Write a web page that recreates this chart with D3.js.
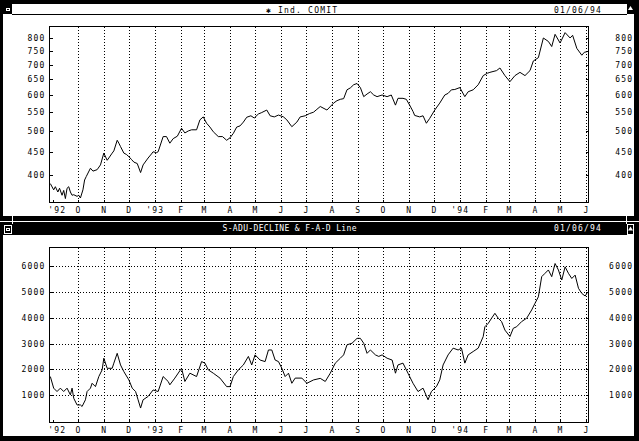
<!DOCTYPE html>
<html>
<head>
<meta charset="utf-8">
<script src="https://cdn.jsdelivr.net/npm/d3@7"></script>
<style>
body { margin: 0; background: #fff; }
svg { display: block; }
text { font-family: "DejaVu Sans Mono", monospace; font-size: 8px; letter-spacing: 1.2px; fill: #000; }
</style>
</head>
<body>
<script>
var svgWidth = 639;
var svgHeight = 441;

// month ticks shared by both panels
var monthTicks = ["1992-09-01", "1992-10-01", "1992-11-01", "1992-12-01",
                  "1993-01-01", "1993-02-01", "1993-03-01", "1993-04-01", "1993-05-01", "1993-06-01",
                  "1993-07-01", "1993-08-01", "1993-09-01", "1993-10-01", "1993-11-01", "1993-12-01",
                  "1994-01-01", "1994-02-01", "1994-03-01", "1994-04-01", "1994-05-01", "1994-06-01"];
var monthLabels = ["'92", "O", "N", "D", "'93", "F", "M", "A", "M", "J", "J", "A", "S", "O", "N", "D",
                   "'94", "F", "M", "A", "M", "J"];

// Ind. COMIT - days counted from 1 Oct 1992
var comitDays = [-33, -29, -27, -24, -22, -19, -17, -15, -13, -11, -9, -7, -5, -1, 1, 3, 6, 8, 10, 15,
  18, 23, 27, 31, 35, 37, 41, 43, 47, 49, 51, 55, 58, 61, 64, 67, 71, 75, 78, 84,
  88, 90, 94, 96, 102, 106, 110, 114, 119, 124, 128, 132, 136, 142, 146, 150, 154, 158, 162, 168,
  173, 178, 182, 186, 190, 194, 198, 202, 207, 211, 216, 220, 226, 230, 235, 240, 246, 250, 256, 262,
  266, 272, 277, 282, 286, 290, 298, 306, 310, 314, 318, 322, 326, 330, 334, 338, 342, 346, 350, 354,
  358, 364, 370, 375, 380, 383, 389, 393, 397, 401, 403, 409, 413, 417, 421, 427, 433, 439, 443, 447,
  451, 457, 463, 467, 473, 479, 485, 490, 493, 501, 505, 511, 517, 523, 529, 535, 541, 545, 551, 557,
  563, 567, 571, 577, 583, 589, 592, 597, 603, 606, 609];
var comitValues = [383, 371, 377, 367, 374, 361, 370, 355, 374, 377, 367, 361, 362, 359, 361, 356, 371, 390, 397, 414,
  408, 411, 421, 447, 431, 436, 447, 452, 477, 470, 462, 447, 444, 439, 433, 427, 424, 405, 421, 436,
  445, 450, 448, 450, 486, 486, 470, 481, 487, 507, 495, 500, 503, 503, 529, 537, 520, 510, 498, 486,
  486, 477, 483, 494, 510, 513, 523, 536, 540, 534, 545, 549, 556, 540, 537, 542, 537, 529, 511, 523,
  537, 540, 546, 550, 558, 566, 556, 576, 583, 587, 589, 616, 622, 632, 636, 623, 595, 603, 610, 600,
  595, 600, 595, 600, 570, 590, 590, 587, 570, 552, 541, 537, 540, 520, 533, 556, 576, 600, 605, 616,
  617, 623, 595, 610, 616, 632, 662, 670, 673, 679, 688, 662, 642, 662, 673, 662, 679, 713, 725, 801,
  787, 767, 816, 781, 823, 801, 812, 760, 734, 745, 747];
var comitTicks = [400, 450, 500, 550, 600, 650, 700, 750, 800];

// S-ADV-DECLINE & F-A-D Line - days counted from 1 Oct 1992
var adDays = [-33, -29, -25, -21, -17, -13, -9, -7, -5, -1, 3, 5, 9, 11, 15, 17, 21, 25, 29, 31,
  35, 41, 43, 47, 51, 55, 61, 65, 69, 72, 75, 78, 84, 90, 96, 102, 108, 110, 116, 124,
  128, 134, 142, 148, 152, 156, 162, 170, 178, 182, 186, 192, 198, 204, 208, 212, 218, 224, 228, 232,
  236, 240, 244, 248, 252, 256, 260, 268, 274, 282, 290, 296, 302, 308, 314, 318, 322, 328, 334, 338,
  342, 346, 350, 356, 360, 364, 370, 376, 380, 383, 389, 395, 401, 407, 413, 419, 423, 429, 433, 437,
  443, 449, 455, 459, 463, 467, 473, 479, 485, 487, 491, 495, 499, 503, 507, 511, 517, 521, 525, 531,
  537, 543, 547, 551, 555, 559, 563, 567, 571, 575, 579, 583, 587, 591, 595, 599, 603, 607, 609];
var adValues = [1720, 1270, 1140, 1270, 1140, 1270, 1010, 1270, 880, 620, 620, 560, 820, 1140, 1270, 1460, 1330, 1720, 1980, 2430,
  2040, 2040, 2240, 2620, 2170, 1910, 1590, 1270, 1140, 820, 500, 820, 950, 1200, 1140, 1720, 1530, 1400, 1660, 2040,
  1530, 1850, 1720, 2300, 2240, 1980, 1850, 1660, 1330, 1330, 1720, 1980, 2170, 2500, 2170, 2560, 2360, 2300, 2750, 2750,
  2360, 2300, 2040, 1720, 1850, 1460, 1660, 1660, 1460, 1590, 1650, 1530, 1850, 2240, 2430, 2560, 2950, 3010, 3200, 3200,
  3010, 2620, 2750, 2560, 2500, 2560, 2430, 2360, 1850, 2170, 2240, 1850, 1460, 1140, 1270, 820, 1140, 1330, 1590, 2170,
  2560, 2820, 2750, 2820, 2240, 2560, 2690, 2820, 3270, 3650, 3780, 3980, 4170, 3980, 3850, 3520, 3270, 3590, 3650, 3850,
  3980, 4300, 4560, 4810, 5590, 5720, 5850, 5590, 6100, 5850, 5460, 5970, 5720, 5520, 5650, 5140, 4940, 4840, 4940];
var adTicks = [1000, 2000, 3000, 4000, 5000, 6000];

var parseDay = d3.timeParse("%Y-%m-%d");
var tickDates = monthTicks.map(parseDay);
var origin = new Date(1992, 9, 1);

var svgViewport = d3.select("body")
  .append("svg")
  .attr("width", svgWidth)
  .attr("height", svgHeight)
  .style("background", "#fff");

function box(x, y, w, h, fill) {
  return svgViewport.append("rect")
    .attr("x", x).attr("y", y)
    .attr("width", w).attr("height", h)
    .attr("fill", fill)
    .attr("shape-rendering", "crispEdges");
}

// ---- window chrome, top window ----
box(0, 0, 639, 4, "#000");
box(0, 0, 3, 216, "#000");
box(634, 0, 5, 216, "#000");
box(3, 4, 9, 10, "#000");
box(6, 8, 4, 3, "#fff");
box(7, 9, 2, 1, "#000");
box(12, 14, 615, 1, "#000");
box(627, 4, 7, 10, "#000");
svgViewport.append("path").attr("d", "M630.5,6 L633,10 L628,10 Z").attr("fill", "#fff");

svgViewport.append("text").attr("x", 266).attr("y", 12.5).text("\u2731 Ind. COMIT");
svgViewport.append("text").attr("x", 554).attr("y", 12.5).text("01/06/94");

// ---- window chrome, bottom window ----
box(0, 216, 639, 5, "#000");
box(0, 222, 639, 2, "#000");
box(0, 224, 639, 11, "#000");
box(0, 235, 3, 206, "#000");
box(634, 235, 5, 206, "#000");
box(0, 436, 639, 5, "#000");
box(12, 214, 1, 10, "#fff");
box(626, 200, 1, 24, "#fff");
svgViewport.append("rect").attr("x", 4.5).attr("y", 225.5).attr("width", 7).attr("height", 8)
  .attr("fill", "none").attr("stroke", "#fff");
box(6, 228, 4, 3, "#fff");
box(7, 229, 2, 1, "#000");
svgViewport.append("rect").attr("x", 627.5).attr("y", 224.5).attr("width", 6).attr("height", 10)
  .attr("fill", "none").attr("stroke", "#fff");
svgViewport.append("path").attr("d", "M630.5,226.5 L633,230.5 L628,230.5 Z").attr("fill", "#fff");

svgViewport.append("text").attr("x", 222.5).attr("y", 231).style("fill", "#fff").style("letter-spacing", "0px")
  .attr("textLength", 134).attr("lengthAdjust", "spacing").text("S-ADU-DECLINE & F-A-D Line");
svgViewport.append("text").attr("x", 554).attr("y", 231).style("fill", "#fff").text("01/06/94");

// ---- shared x scale ----
var xScale = d3.scaleTime()
  .domain([new Date(1992, 7, 28), new Date(1994, 5, 4)])
  .range([49.5, 588.5]);

function drawPanel(top, bottom, yScale, days, values, yTicks, hGrid) {
  var g = svgViewport.append("g");
  var data = days.map(function(d, i) {
    return {date: d3.timeDay.offset(origin, d), value: values[i]};
  });

  // dotted month grid
  g.selectAll(".vgrid")
    .data(tickDates.slice(1))
    .join("line")
    .attr("class", "vgrid")
    .attr("x1", function(d) { return Math.round(xScale(d)) + 0.5; })
    .attr("x2", function(d) { return Math.round(xScale(d)) + 0.5; })
    .attr("y1", top).attr("y2", bottom)
    .attr("stroke", "#000")
    .attr("stroke-dasharray", "1,2")
    .attr("shape-rendering", "crispEdges");

  if (hGrid) {
    g.selectAll(".hgrid")
      .data(yTicks)
      .join("line")
      .attr("class", "hgrid")
      .attr("x1", 49.5).attr("x2", 588.5)
      .attr("y1", function(d) { return Math.round(yScale(d)) + 0.5; })
      .attr("y2", function(d) { return Math.round(yScale(d)) + 0.5; })
      .attr("stroke", "#000")
      .attr("stroke-dasharray", "1,2")
      .attr("shape-rendering", "crispEdges");
  }

  g.append("rect")
    .attr("x", 49.5).attr("y", top)
    .attr("width", 539).attr("height", bottom - top)
    .attr("fill", "none").attr("stroke", "#000")
    .attr("shape-rendering", "crispEdges");

  // axes
  var xAxis = d3.axisBottom(xScale)
    .tickValues(tickDates)
    .tickSize(-3)
    .tickFormat(function(d) {
      return monthLabels[tickDates.findIndex(function(t) { return +t === +d; })];
    });
  var gX = g.append("g").attr("transform", "translate(0," + bottom + ")").call(xAxis);
  gX.select(".domain").remove();
  gX.selectAll("text").attr("y", 10).attr("dy", null);
  gX.selectAll("text").filter(function(d) { return +d === +tickDates[0]; }).attr("dx", 4);

  var yAxisL = d3.axisLeft(yScale).tickValues(yTicks).tickSize(-3).tickPadding(4).tickFormat(d3.format("d"));
  var gYL = g.append("g").attr("transform", "translate(49.5,0)").call(yAxisL);
  gYL.select(".domain").remove();

  var yAxisR = d3.axisRight(yScale).tickValues(yTicks).tickSize(-3).tickFormat(d3.format("d"));
  var gYR = g.append("g").attr("transform", "translate(588.5,0)").call(yAxisR);
  gYR.select(".domain").remove();
  gYR.selectAll("text").attr("text-anchor", "end").attr("x", 44.7);

  g.selectAll(".tick line").attr("shape-rendering", "crispEdges");

  var line = d3.line()
    .x(function(d) { return xScale(d.date); })
    .y(function(d) { return yScale(d.value); });

  g.append("path")
    .datum(data)
    .attr("fill", "none")
    .attr("stroke", "#000")
    .attr("stroke-width", 1)
    .attr("d", line);
}

var yComit = d3.scaleLog().domain([348, 849]).range([202.5, 26.5]);
var yAD = d3.scaleLinear().domain([-60, 6720]).range([422.5, 247.5]);

drawPanel(26.5, 202.5, yComit, comitDays, comitValues, comitTicks, false);
drawPanel(247.5, 422.5, yAD, adDays, adValues, adTicks, true);
</script>
</body>
</html>
